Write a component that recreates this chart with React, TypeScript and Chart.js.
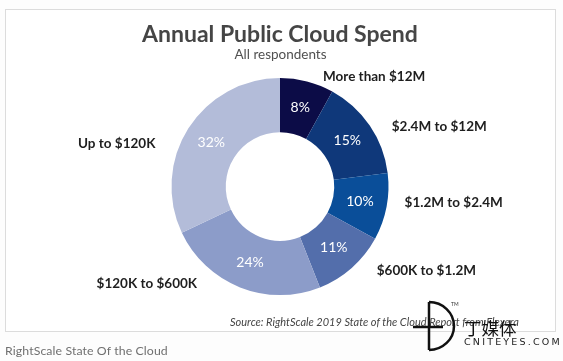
import React, { useEffect, useRef } from "react";
import { Chart, registerables } from "chart.js";

Chart.register(...registerables);

const categories = [
  "More than $12M",
  "$2.4M to $12M",
  "$1.2M to $2.4M",
  "$600K to $1.2M",
  "$120K to $600K",
  "Up to $120K",
];
const shares = [8, 15, 10, 11, 24, 32];
const sliceColors = ["#0c0c47", "#0f387a", "#0a4e99", "#536eab", "#8c9cc9", "#b3bcd9"];
// label nudges (px) from the outer midpoint of each slice
const labelNudges: [number, number][] = [
  [16, -5],
  [22, 1.5],
  [18, -4],
  [25, 3],
  [-43, -4],
  [-33, 15],
];

const FONT = "Lato, 'Open Sans', sans-serif";

const labelPlugin = {
  id: "sliceLabels",
  afterDatasetsDraw(chart: any) {
    const ctx = chart.ctx;
    const meta = chart.getDatasetMeta(0);
    const data = chart.data.datasets[0].data as number[];
    ctx.save();
    meta.data.forEach((arc: any, i: number) => {
      const pos = arc.tooltipPosition();
      ctx.fillStyle = "#ffffff";
      ctx.font = `14px ${FONT}`;
      ctx.textAlign = "center";
      ctx.textBaseline = "middle";
      ctx.fillText(`${data[i]}%`, pos.x, pos.y);

      const props = arc.getProps(["x", "y", "startAngle", "endAngle", "outerRadius"], true);
      const mid = (props.startAngle + props.endAngle) / 2;
      const ox = props.x + Math.cos(mid) * props.outerRadius;
      const oy = props.y + Math.sin(mid) * props.outerRadius;
      const [dx, dy] = labelNudges[i];
      ctx.fillStyle = "#1e1e1e";
      ctx.font = `bold 13.5px ${FONT}`;
      ctx.textAlign = dx >= 0 ? "left" : "right";
      ctx.fillText(chart.data.labels[i], ox + dx, oy + dy);
    });
    ctx.restore();
  },
};

export default function App() {
  const ref = useRef<HTMLCanvasElement | null>(null);
  useEffect(() => {
    if (!ref.current) return;
    const chart = new Chart(ref.current, {
      type: "doughnut",
      data: {
        labels: categories,
        datasets: [
          {
            data: shares,
            backgroundColor: sliceColors,
            borderWidth: 0,
            hoverOffset: 0,
          },
        ],
      },
      options: {
        responsive: false,
        animation: false,
        cutout: "50%",
        layout: { padding: { left: 171.5, right: 174.5, top: 78, bottom: 66 } },
        plugins: {
          legend: { display: false },
          tooltip: { enabled: false },
        },
      },
      plugins: [labelPlugin],
    });
    return () => chart.destroy();
  }, []);

  return (
    <div
      style={{
        position: "absolute",
        left: 0,
        top: 0,
        width: 563,
        height: 361,
        background: "#fdfdfd",
        overflow: "hidden",
        fontFamily: FONT,
      }}
    >
      <div
        style={{
          position: "absolute",
          left: 5,
          top: 9,
          width: 549,
          height: 321,
          border: "1px solid #dcdcdc",
          background: "#ffffff",
        }}
      />
      <canvas ref={ref} width={563} height={361} style={{ position: "absolute", left: 0, top: 0 }} />
      <div
        style={{
          position: "absolute",
          left: 0,
          width: 560,
          top: 19,
          textAlign: "center",
          fontWeight: "bold",
          fontSize: 23,
          color: "#454545",
          lineHeight: "28px",
        }}
      >
        Annual Public Cloud Spend
      </div>
      <div
        style={{
          position: "absolute",
          left: 0,
          width: 561,
          top: 46,
          textAlign: "center",
          fontSize: 13.5,
          color: "#505050",
          lineHeight: "16px",
        }}
      >
        All respondents
      </div>
      <div
        style={{
          position: "absolute",
          left: 230,
          top: 315,
          fontSize: 11,
          fontStyle: "italic",
          color: "#454545",
          lineHeight: "14px",
          whiteSpace: "nowrap",
        }}
      >
        Source: RightScale 2019 State of the Cloud Report from Flexera
      </div>
      <div
        style={{
          position: "absolute",
          left: 5,
          top: 342,
          fontSize: 12.3,
          color: "#707070",
          lineHeight: "18px",
          whiteSpace: "nowrap",
          letterSpacing: 0.1,
        }}
      >
        RightScale State Of the Cloud
      </div>
      <svg
        width={563}
        height={361}
        style={{ position: "absolute", left: 0, top: 0, pointerEvents: "none" }}
      >
        <path d="M429 302 L429 350 M429 302 A25 24 0 0 1 429 350" fill="none" stroke="#111" strokeWidth={2.5} />
        <path d="M413 327 L443 327" stroke="#111" strokeWidth={2.5} />
        <text x={451} y={306} fontSize={5} fill="#333" fontFamily={FONT}>
          TM
        </text>
        <text
          x={464}
          y={335}
          fontSize={17.5}
          fill="#111"
          fontFamily="'Noto Sans CJK SC', sans-serif"
        >
          丁媒体
        </text>
        <text
          x={464}
          y={345}
          fontSize={9.5}
          fill="#222"
          letterSpacing={2.2}
          fontFamily="'DejaVu Sans', sans-serif"
        >
          CNITEYES.COM
        </text>
      </svg>
    </div>
  );
}
